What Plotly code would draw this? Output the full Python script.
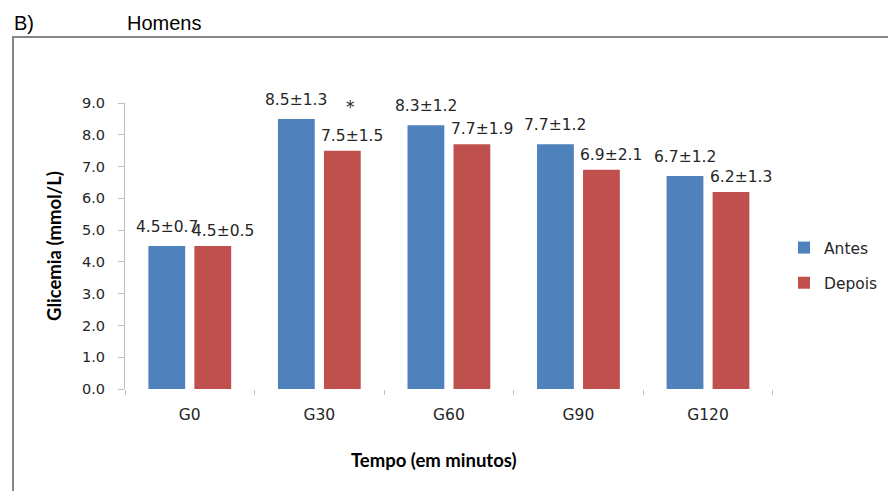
import plotly.graph_objects as go

# Glicemia ao longo do teste (homens), antes e depois
categorias = ["G0", "G30", "G60", "G90", "G120"]
antes_media = [4.5, 8.5, 8.3, 7.7, 6.7]
antes_dp = [0.7, 1.3, 1.2, 1.2, 1.2]
depois_media = [4.5, 7.5, 7.7, 6.9, 6.2]
depois_dp = [0.5, 1.5, 1.9, 2.1, 1.3]
significancia = ["", "*", "", "", ""]

AZUL = "#4F81BD"
VERMELHO = "#C0504D"
TEXTO = "#262626"
FONTE = "DejaVu Sans"

W, H = 888, 491
ML, MR, MT, MB = 125, 114, 103, 102
PW, PH = W - ML - MR, H - MT - MB


def px_x(x):
    return (x - ML) / PW


def px_y(y):
    return (H - MB - y) / PH


fig = go.Figure()
fig.add_trace(go.Bar(name="Antes", x=categorias, y=antes_media,
                     marker=dict(color=AZUL, line=dict(width=0)),
                     legendgroup="a", hoverinfo="x+y"))
fig.add_trace(go.Bar(name="Depois", x=categorias, y=depois_media,
                     marker=dict(color=VERMELHO, line=dict(width=0)),
                     legendgroup="d", hoverinfo="x+y"))

anots = []
for c, m, s in zip(categorias, antes_media, antes_dp):
    anots.append(dict(x=c, y=m, xref="x", yref="y", text=f"{m:.1f}±{s:.1f}",
                      showarrow=False, xshift=-23, yshift=19,
                      xanchor="center", yanchor="middle",
                      font=dict(family=FONTE, size=15.5, color=TEXTO)))
for c, m, s in zip(categorias, depois_media, depois_dp):
    anots.append(dict(x=c, y=m, xref="x", yref="y", text=f"{m:.1f}±{s:.1f}",
                      showarrow=False, xshift=33, yshift=15,
                      xanchor="center", yanchor="middle",
                      font=dict(family=FONTE, size=15.5, color=TEXTO)))
for c, m, sig in zip(categorias, depois_media, significancia):
    if sig:
        anots.append(dict(x=c, y=m, xref="x", yref="y", text=sig,
                          showarrow=False, xshift=31, yshift=44,
                          xanchor="center", yanchor="middle",
                          font=dict(family=FONTE, size=17, color=TEXTO)))

# titulos dos eixos
anots.append(dict(x=0, y=0.5, xref="paper", yref="paper", xshift=-(ML - 54),
                  text="<b>Glicemia (mmol/L)</b>", textangle=-90, showarrow=False,
                  xanchor="center", yanchor="middle",
                  font=dict(family="Lato", size=18.5, color="#000000")))
anots.append(dict(x=0.5, y=0, xref="paper", yref="paper", xshift=-16, yshift=-71,
                  text="<b>Tempo (em minutos)</b>", showarrow=False,
                  xanchor="center", yanchor="middle",
                  font=dict(family="Lato", size=18.5, color="#000000")))

# rotulo do painel e titulo
anots.append(dict(x=px_x(12), y=px_y(23), xref="paper", yref="paper", text="B)",
                  showarrow=False, xanchor="left", yanchor="middle",
                  font=dict(family="Liberation Sans", size=20, color="#000000")))
anots.append(dict(x=px_x(125), y=px_y(23), xref="paper", yref="paper", text="Homens",
                  showarrow=False, xanchor="left", yanchor="middle",
                  font=dict(family="Liberation Sans", size=20, color="#000000")))

# moldura externa
moldura = dict(type="rect", xref="paper", yref="paper",
               x0=px_x(13), x1=px_x(W + 10), y0=px_y(H + 10), y1=px_y(37),
               line=dict(color="#868686", width=2), fillcolor="rgba(0,0,0,0)",
               layer="below")

fig.update_layout(
    width=W, height=H,
    margin=dict(l=ML, r=MR, t=MT, b=MB, autoexpand=False),
    paper_bgcolor="white", plot_bgcolor="white",
    barmode="group", bargap=0.29, bargroupgap=0.2,
    annotations=anots,
    shapes=[moldura],
    showlegend=True,
    legend=dict(x=px_x(784), y=px_y(231), xanchor="left", yanchor="top",
                traceorder="grouped", tracegroupgap=12,
                font=dict(family=FONTE, size=15.5, color=TEXTO),
                bgcolor="rgba(0,0,0,0)"),
    xaxis=dict(type="category", showgrid=False, zeroline=False, showline=False,
               ticks="outside", tickson="boundaries", ticklen=5,
               tickcolor="#bfbfbf", ticklabelstandoff=14,
               tickfont=dict(family=FONTE, size=15.5, color=TEXTO)),
    yaxis=dict(range=[0, 9], dtick=1, tickformat=".1f", showgrid=False,
               zeroline=False, showline=True, linecolor="#bfbfbf", linewidth=1,
               ticks="outside", ticklen=6, tickcolor="#bfbfbf",
               ticklabelstandoff=10,
               tickfont=dict(family=FONTE, size=14.5, color=TEXTO)),
)

fig.write_html("out.html")
